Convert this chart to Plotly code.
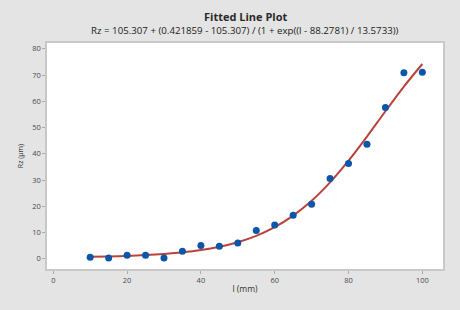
import plotly.graph_objects as go

l_mm = [10, 15, 20, 25, 30, 35, 40, 45, 50, 55, 60, 65, 70, 75, 80, 85, 90, 95, 100]
rz_um = [0.6, 0.3, 1.3, 1.3, 0.3, 2.9, 5.1, 4.8, 6.0, 10.8, 12.9, 16.6, 20.8, 30.6, 36.3, 43.6, 57.6, 70.9, 71.1]

fit_l = [10, 15, 20, 25, 30, 35, 40, 45, 50, 55, 60, 65, 70, 75, 80, 85, 90, 95, 100]
fit_rz = [0.75, 0.89, 1.10, 1.40, 1.84, 2.45, 3.33, 4.58, 6.32, 8.74, 12.04, 16.42, 22.07, 29.08, 37.35, 46.56, 56.19, 65.59, 74.20]

x_ticks = [0, 20, 40, 60, 80, 100]
y_ticks = [0, 10, 20, 30, 40, 50, 60, 70, 80]

title_main = "Fitted Line Plot"
title_sub = "Rz = 105.307 + (0.421859 - 105.307) / (1 + exp((l - 88.2781) / 13.5733))"

W, H = 460, 310
M_L, M_R, M_T, M_B = 47, 17, 43, 41
plot_h = H - M_T - M_B


def py_to_paper(py):
    return (H - M_B - py) / plot_h


fig = go.Figure()
fig.add_trace(go.Scatter(x=fit_l, y=fit_rz, mode="lines",
                         line=dict(color="#b8423c", width=2, shape="spline"),
                         hoverinfo="skip", showlegend=False))
fig.add_trace(go.Scatter(x=l_mm, y=rz_um, mode="markers",
                         marker=dict(color="#0a56a8", size=7), showlegend=False))

fig.update_layout(
    width=W, height=H,
    margin=dict(l=M_L, r=M_R, t=M_T, b=M_B),
    paper_bgcolor="#e4e4e4",
    plot_bgcolor="#ffffff",
    font=dict(family="Open Sans, Noto Sans, sans-serif", color="#333333"),
    showlegend=False,
)
fig.add_annotation(text="<b>" + title_main + "</b>", x=0.5, y=py_to_paper(16.5), xref="paper", yref="paper",
                   showarrow=False, font=dict(size=11, color="#2a2a2a"), yanchor="middle", xanchor="center")
fig.add_annotation(text=title_sub, x=0.5, y=py_to_paper(30.5), xref="paper", yref="paper",
                   showarrow=False, font=dict(size=9.7, color="#222222"), yanchor="middle", xanchor="center")

fig.update_xaxes(range=[-1.7, 105.6], tickvals=x_ticks, ticks="outside", ticklen=3, tickcolor="#aaaaaa",
                 tickfont=dict(size=7.5, color="#4a4a4a"), showgrid=False, zeroline=False,
                 showline=True, linecolor="#c8c8c8", linewidth=1.5, mirror=True,
                 title=dict(text="l (mm)", font=dict(size=8.5, color="#333333"), standoff=2))
fig.update_yaxes(range=[-3.9, 82.2], tickvals=y_ticks, ticks="outside", ticklen=3, tickcolor="#aaaaaa",
                 tickfont=dict(size=7.5, color="#4a4a4a"), showgrid=False, zeroline=False,
                 showline=True, linecolor="#c8c8c8", linewidth=1.5, mirror=True,
                 title=dict(text="Rz (μm)", font=dict(size=7, color="#333333"), standoff=8))

fig.write_html("out.html", config={"displayModeBar": False},
               post_script="document.body.style.margin='0';document.body.style.overflow='hidden';")
